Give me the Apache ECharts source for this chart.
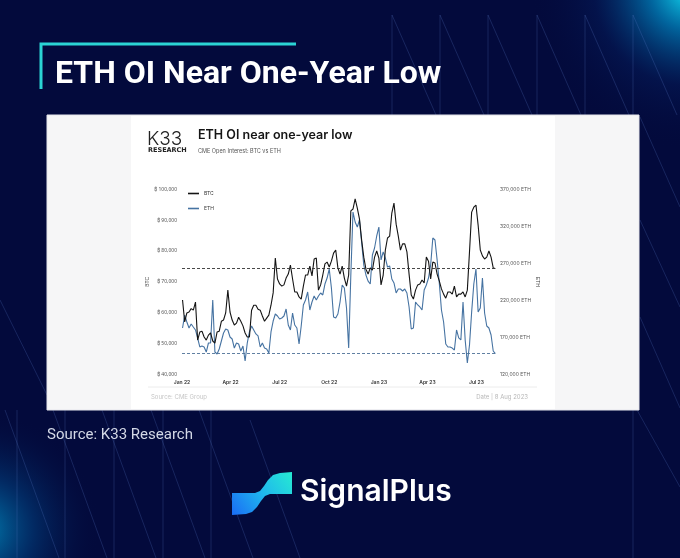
<!DOCTYPE html>
<html>
<head>
<meta charset="utf-8">
<script src="https://cdn.jsdelivr.net/npm/echarts@6/dist/echarts.min.js"></script>
<style>html,body{margin:0;padding:0;background:#030a3c;}#c{width:680px;height:558px;}</style>
</head>
<body>
<div id="c"></div>
<script>
const startDate = [2022, 0, 2];
const stepDays = 4;
const btc = [64100,57000,59900,60200,61300,60800,63400,51100,53700,54000,52100,51100,52700,53400,50800,50100,53700,54000,57200,57600,
59900,67300,60200,57600,56000,56600,58500,57200,55700,53400,52100,52100,60800,62400,62400,61100,60800,58900,57200,58200,
59200,62400,66400,77700,70900,69300,68600,69000,71200,72500,75400,70900,66700,66700,65100,64400,68600,72200,72200,75100,
71900,77400,77700,67300,69000,72200,75800,76400,74800,76700,79300,80300,74500,72500,75100,71200,68600,72200,93000,93600,
96900,93900,90400,83600,78000,74100,72500,74500,73800,78000,80000,77700,69000,72200,80300,84200,84800,92300,95500,88700,
84800,80300,82300,82300,79700,72500,65700,64400,67300,69000,69300,70600,69600,78000,76700,70900,76400,76100,72500,70300,
67700,66000,64700,66700,66700,66000,68600,65100,66000,66000,66700,65100,67300,79700,92600,94200,94900,88400,80300,78400,
77400,78000,80000,78000,74500,74300];
const eth = [182600,200000,190700,182600,188000,183900,179900,169000,156900,158200,156900,150100,162300,162300,220400,150100,147400,154200,165000,175800,
181200,179900,170400,167700,155500,162300,160900,151500,158200,138000,162300,177200,185300,179900,174500,171800,156900,162300,155500,154200,
148800,177200,192000,201500,198800,194700,196100,198800,208200,186600,179900,202800,186600,182600,160900,185300,213700,220400,231200,206900,
217700,225800,220400,225800,229900,227200,242000,250100,262300,236600,197400,196100,201500,217700,240700,236600,209600,155500,254200,339300,
325800,319000,328500,298800,267700,254200,246000,242000,281200,290700,306900,319000,274500,285300,277200,265000,266400,248800,243400,229900,
235300,235300,232600,235300,229900,211000,181200,182600,217700,213700,211000,206900,234000,240700,250100,267700,304200,301500,274500,243400,
206900,190700,160900,156900,156900,155500,152800,179900,169100,166400,217700,166400,135300,159600,204200,242000,262300,204200,209600,250100,
202800,185300,182600,173100,151500,148000];
const tickDates = ['2022-01-01','2022-04-01','2022-07-01','2022-10-01','2023-01-01','2023-04-01','2023-07-01'];
const tickLabels = ['Jan 22','Apr 22','Jul 22','Oct 22','Jan 23','Apr 23','Jul 23'];
const btcTicks = [40000,50000,60000,70000,80000,90000,100000];
const ethTicks = [120000,170000,220000,270000,320000,370000];
const seriesNames = ['BTC','ETH'];

function ts(s){const p=s.split('-').map(Number);return new Date(p[0],p[1]-1,p[2]).getTime();}
const dates = btc.map((_, i) => new Date(startDate[0], startDate[1], startDate[2] + stepDays * i).getTime());
const tickTs = tickDates.map(ts);
const DAY = 86400000;

const chart = echarts.init(document.getElementById('c'), null, {renderer:'canvas', width:680, height:558});
const lineCol = 'rgba(90,125,200,0.35)';
function L(x1,y1,x2,y2){return {type:'line', z:-90, silent:true, shape:{x1,y1,x2,y2}, style:{stroke:lineCol, lineWidth:0.7}};}
const deco = [];
[392,440,488,537,585,633].forEach(x=>{deco.push(L(x,15,x,115)); deco.push(L(x,15,x+44,115));});
[17,65,114,163,211].forEach(x=>{deco.push(L(x,410,x,558)); deco.push(L(x-12,410,x+42,558));});
deco.push(L(250,420,300,558));
deco.push(L(633,410,633,558)); deco.push(L(637,410,680,487));
deco.push(L(640,117,680,207)); deco.push(L(640,220,680,307)); deco.push(L(640,317,680,408));
deco.push(L(0,300,47,395));

const option = {
  animation:false,
  backgroundColor:'#030a3c',
  title:[
    {text:'ETH OI Near One-Year Low', left:55, top:59, padding:0,
     textStyle:{color:'#ffffff', fontSize:32, fontWeight:'bold', fontFamily:'Roboto'}},
    {text:'ETH OI near one-year low', subtext:'CME Open Interest: BTC vs ETH', left:198, top:129, padding:0, itemGap:6,
     textStyle:{color:'#151515', fontSize:12.5, fontWeight:600, fontFamily:'Inter'},
     subtextStyle:{color:'#555', fontSize:5.5, fontFamily:'Inter'}}
  ],
  graphic:[
    {type:'circle', z:-95, silent:true, shape:{cx:690, cy:-10, r:160},
     style:{fill:new echarts.graphic.RadialGradient(0.5,0.5,0.5,[{offset:0,color:'rgba(20,225,245,1)'},{offset:0.25,color:'rgba(0,150,210,0.65)'},{offset:0.6,color:'rgba(5,40,110,0.3)'},{offset:1,color:'rgba(3,10,60,0)'}])}},
    {type:'circle', z:-95, silent:true, shape:{cx:-20, cy:530, r:120},
     style:{fill:new echarts.graphic.RadialGradient(0.5,0.5,0.5,[{offset:0,color:'rgba(0,170,220,0.75)'},{offset:0.45,color:'rgba(0,100,170,0.35)'},{offset:1,color:'rgba(3,10,60,0)'}])}},
    ...deco,
    {type:'polyline', z:-80, silent:true, shape:{points:[[41,89],[41,44],[296,44]]}, style:{stroke:'#2bd4d4', lineWidth:3, fill:null}},
    {type:'rect', z:-70, silent:true, shape:{x:47,y:115,width:592,height:295}, style:{fill:'#f6f6f7', stroke:'#e6e6ec', lineWidth:1}},
    {type:'rect', z:-69, silent:true, shape:{x:131,y:116,width:424,height:293}, style:{fill:'#ffffff'}},
    {type:'line', z:-60, silent:true, shape:{x1:148,y1:387,x2:537,y2:387}, style:{stroke:'#ececec', lineWidth:1}},
    {type:'text', z:10, silent:true, style:{x:147, y:139, text:'K33', font:'300 19px Inter', fill:'#222', textVerticalAlign:'middle'}},
    {type:'text', z:10, silent:true, style:{x:148, y:150, text:'RESEARCH', font:'600 6.5px "DejaVu Sans"', fill:'#222', textVerticalAlign:'middle'}},
    {type:'text', z:10, silent:true, style:{x:151, y:397, text:'Source: CME Group', font:'6px Inter', fill:'#c6c6c6', textVerticalAlign:'middle'}},
    {type:'text', z:10, silent:true, style:{x:528, y:397, text:'Date | 8 Aug 2023', font:'6px Inter', fill:'#b8b8b8', textAlign:'right', textVerticalAlign:'middle'}},
    {type:'text', z:10, silent:true, style:{x:47, y:435, text:'Source: K33 Research', font:'15px Roboto', fill:'#d3d8e6', textVerticalAlign:'middle'}},
    {type:'polygon', z:10, silent:true,
     shape:{points:[[232,493],[255,493],[260,491],[264,486],[268,480],[273,475],[280,473],[292,472],[292,494],[270,494],[265,496],[261,501],[257,507],[252,512],[246,514],[232,515]]},
     style:{fill:new echarts.graphic.LinearGradient(0,1,1,0,[{offset:0,color:'#1a6cf5'},{offset:0.5,color:'#1fb6ee'},{offset:1,color:'#26ead2'}])}},
    {type:'text', z:10, silent:true, style:{x:300, y:492, text:'SignalPlus', font:'600 30px Inter', fill:'#ffffff', textVerticalAlign:'middle'}}
  ],
  legend:{data:seriesNames, orient:'vertical', left:183, top:186, itemWidth:11, itemHeight:1.6, itemGap:10, icon:'rect',
    textStyle:{fontSize:5, color:'#333', fontFamily:'Inter'}},
  grid:{left:182, top:189.3, width:315, height:185, containLabel:false},
  xAxis:{type:'value', min:ts('2022-01-01'), max:ts('2023-08-08'), interval:DAY*30,
    axisLine:{show:false}, axisTick:{show:false}, splitLine:{show:false},
    axisLabel:{customValues:tickTs, formatter:function(v){const k=tickTs.indexOf(v);return k>=0?tickLabels[k]:'';},
      fontSize:5, color:'#333', fontWeight:600, margin:6, fontFamily:'Inter'}},
  yAxis:[
    {type:'value', position:'left', min:40000, max:100000, interval:10000,
     axisLine:{show:false}, axisTick:{show:false}, splitLine:{show:false},
     axisLabel:{customValues:btcTicks, formatter:v=>'\u20BF '+v.toLocaleString('en-US'), fontSize:5, color:'#555', margin:5, fontFamily:'Noto Sans'},
     name:'BTC', nameLocation:'middle', nameRotate:90, nameGap:28, nameTextStyle:{fontSize:5, color:'#444'}},
    {type:'value', position:'right', min:120000, max:370000, interval:10000,
     axisLine:{show:false}, axisTick:{show:false}, splitLine:{show:false},
     axisLabel:{customValues:ethTicks, formatter:v=>v.toLocaleString('en-US')+' ETH', fontSize:5, color:'#555', margin:3, fontFamily:'Inter'},
     name:'ETH', nameLocation:'middle', nameRotate:-90, nameGap:33, nameTextStyle:{fontSize:5, color:'#444'}}
  ],
  series:[
    {name:'BTC', type:'line', yAxisIndex:0, data:dates.map((d,i)=>[d,btc[i]]), showSymbol:false, z:3,
     lineStyle:{color:'#141414', width:1.1}, itemStyle:{color:'#141414'},
     markLine:{silent:true, symbol:'none', label:{show:false}, lineStyle:{type:[3,2], color:'#333', width:0.9},
       data:[{yAxis:btc[btc.length-1]}]}},
    {name:'ETH', type:'line', yAxisIndex:1, data:dates.map((d,i)=>[d,eth[i]]), showSymbol:false, z:2,
     lineStyle:{color:'#4673a2', width:1.1}, itemStyle:{color:'#4673a2'},
     markLine:{silent:true, symbol:'none', label:{show:false}, lineStyle:{type:[3,2], color:'#4f7297', width:0.9},
       data:[{yAxis:eth[eth.length-1]}]}}
  ]
};
chart.setOption(option);
</script>
</body>
</html>
